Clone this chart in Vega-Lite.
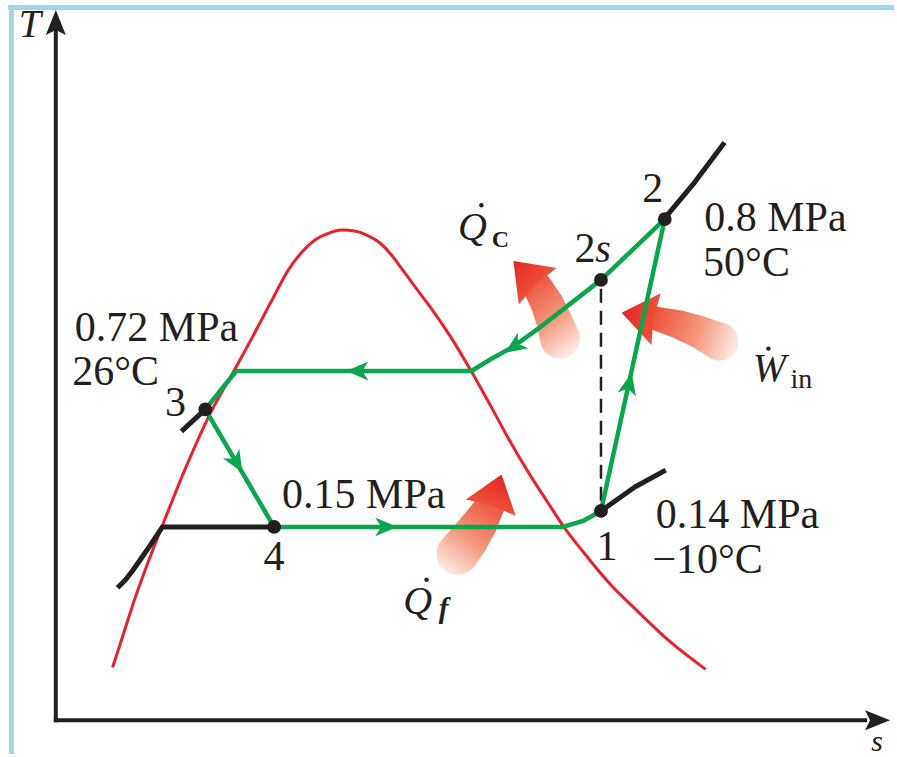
{
  "$schema": "https://vega.github.io/schema/vega-lite/v6.json",
  "width": 897,
  "height": 757,
  "autosize": {"type": "fit", "contains": "padding"},
  "padding": 0,
  "background": "white",
  "config": {"view": {"stroke": null}},
  "datasets": {
    "frame": [
      {"s": -4.8, "T": 71.55, "s2": 84.1, "T2": 71.55},
      {"s": -4.45, "T": 71.8, "s2": -4.45, "T2": -3.4}
    ],
    "axes": [
      {"s": 0, "T": -0.2, "s2": 0, "T2": 69.3},
      {"s": -0.2, "T": 0, "s2": 81.4, "T2": 0}
    ],
    "axisHeads": [
      {"s": 0, "T": 70.05, "heading": 0},
      {"s": 82.45, "T": 0, "heading": 90}
    ],
    "dome": [
      {"k": 1, "s": 5.7, "T": 5.3}, {"k": 2, "s": 6.8, "T": 8.7}, {"k": 3, "s": 7.9, "T": 12.1},
      {"k": 4, "s": 9.2, "T": 15.7}, {"k": 5, "s": 10.6, "T": 19.3}, {"k": 6, "s": 13.1, "T": 25.5},
      {"k": 7, "s": 15.6, "T": 31.0}, {"k": 8, "s": 17.9, "T": 35.1}, {"k": 9, "s": 19.8, "T": 38.6},
      {"k": 10, "s": 21.6, "T": 42.0}, {"k": 11, "s": 23.4, "T": 45.3}, {"k": 12, "s": 24.7, "T": 47.0},
      {"k": 13, "s": 26.0, "T": 48.2}, {"k": 14, "s": 27.4, "T": 48.9}, {"k": 15, "s": 28.7, "T": 49.2},
      {"k": 16, "s": 30.0, "T": 49.1}, {"k": 17, "s": 31.2, "T": 48.7}, {"k": 18, "s": 32.4, "T": 48.0},
      {"k": 19, "s": 33.6, "T": 46.8}, {"k": 20, "s": 34.8, "T": 45.2}, {"k": 21, "s": 36.2, "T": 43.3},
      {"k": 22, "s": 37.7, "T": 41.3}, {"k": 23, "s": 39.6, "T": 38.5}, {"k": 24, "s": 41.7, "T": 35.0},
      {"k": 25, "s": 43.6, "T": 31.6}, {"k": 26, "s": 45.4, "T": 28.3}, {"k": 27, "s": 47.4, "T": 24.9},
      {"k": 28, "s": 49.4, "T": 21.8}, {"k": 29, "s": 50.9, "T": 19.5}, {"k": 30, "s": 52.9, "T": 16.9},
      {"k": 31, "s": 55.4, "T": 13.9}, {"k": 32, "s": 58.4, "T": 10.9}, {"k": 33, "s": 61.6, "T": 7.9},
      {"k": 34, "s": 65.2, "T": 5.1}
    ],
    "isobars": [
      {"seg": "p2", "k": 1, "s": 61.1, "T": 50.4}, {"seg": "p2", "k": 2, "s": 64.1, "T": 54.0}, {"seg": "p2", "k": 3, "s": 67.1, "T": 58.0},
      {"seg": "p1", "k": 1, "s": 54.7, "T": 21.0}, {"seg": "p1", "k": 2, "s": 58.1, "T": 23.4}, {"seg": "p1", "k": 3, "s": 61.2, "T": 25.1},
      {"seg": "p3", "k": 1, "s": 15.0, "T": 31.2}, {"seg": "p3", "k": 2, "s": 12.6, "T": 29.0},
      {"seg": "p4", "k": 1, "s": 21.9, "T": 19.4}, {"seg": "p4", "k": 2, "s": 10.7, "T": 19.4}, {"seg": "p4", "k": 3, "s": 9.9, "T": 18.2},
      {"seg": "p4", "k": 4, "s": 9.1, "T": 17.0}, {"seg": "p4", "k": 5, "s": 8.4, "T": 16.0}, {"seg": "p4", "k": 6, "s": 7.7, "T": 15.0},
      {"seg": "p4", "k": 7, "s": 7.0, "T": 14.1}, {"seg": "p4", "k": 8, "s": 6.2, "T": 13.3}
    ],
    "isentrope": [
      {"s": 54.7, "T": 43.3, "s2": 54.7, "T2": 21.8}
    ],
    "cycle": [
      {"k": 1, "s": 21.9, "T": 19.4}, {"k": 2, "s": 50.9, "T": 19.4}, {"k": 3, "s": 52.9, "T": 20.0},
      {"k": 4, "s": 54.7, "T": 21.0}, {"k": 5, "s": 61.1, "T": 50.3}, {"k": 6, "s": 54.7, "T": 44.2},
      {"k": 7, "s": 48.4, "T": 39.3}, {"k": 8, "s": 45.9, "T": 37.5}, {"k": 9, "s": 43.4, "T": 36.1},
      {"k": 10, "s": 41.7, "T": 35.05}, {"k": 11, "s": 18.1, "T": 35.05}, {"k": 12, "s": 15.0, "T": 31.2},
      {"k": 13, "s": 21.9, "T": 19.4}
    ],
    "flow": [
      {"s": 33.15, "T": 19.4, "heading": 90},
      {"s": 30.25, "T": 35.05, "heading": 270},
      {"s": 57.53, "T": 33.77, "heading": 12.5},
      {"s": 45.97, "T": 37.5, "heading": 236},
      {"s": 18.15, "T": 25.81, "heading": 149.7}
    ],
    "heat": [
      {"arrow": "cond", "k": 1, "s": 48.4, "T": 43.4, "w": 0.667},
      {"arrow": "cond", "k": 2, "s": 49.3, "T": 41.8, "w": 0.733},
      {"arrow": "cond", "k": 3, "s": 50.0, "T": 40.1, "w": 0.8},
      {"arrow": "cond", "k": 4, "s": 50.6, "T": 38.3, "w": 0.889},
      {"arrow": "work", "k": 1, "s": 60.3, "T": 40.3, "w": 0.533},
      {"arrow": "work", "k": 2, "s": 62.6, "T": 39.7, "w": 0.644},
      {"arrow": "work", "k": 3, "s": 64.7, "T": 38.9, "w": 0.733},
      {"arrow": "work", "k": 4, "s": 66.6, "T": 38.0, "w": 0.844},
      {"arrow": "evap", "k": 1, "s": 43.5, "T": 21.4, "w": 0.667},
      {"arrow": "evap", "k": 2, "s": 42.5, "T": 19.7, "w": 0.8},
      {"arrow": "evap", "k": 3, "s": 41.4, "T": 18.1, "w": 0.889},
      {"arrow": "evap", "k": 4, "s": 40.3, "T": 16.7, "w": 0.933}
    ],
    "heatHeads": [
      {"s": 47.13, "T": 44.83, "heading": 316.1},
      {"s": 58.5, "T": 40.58, "heading": 280.2},
      {"s": 44.18, "T": 23.0, "heading": 18.2}
    ],
    "states": [
      {"state": "1", "s": 54.7, "T": 21.0},
      {"state": "2", "s": 61.1, "T": 50.3},
      {"state": "2s", "s": 54.7, "T": 44.2},
      {"state": "3", "s": 15.0, "T": 31.2},
      {"state": "4", "s": 21.9, "T": 19.4}
    ],
    "labels": [
      {"s": 72.2, "T": 49.1, "label": "0.8 MPa"},
      {"s": 69.3, "T": 44.6, "label": "50°C"},
      {"s": 10.1, "T": 38.1, "label": "0.72 MPa"},
      {"s": 6.0, "T": 33.6, "label": "26°C"},
      {"s": 30.9, "T": 21.3, "label": "0.15 MPa"},
      {"s": 68.4, "T": 19.3, "label": "0.14 MPa"},
      {"s": 65.4, "T": 14.8, "label": "−10°C"},
      {"s": 55.3, "T": 16.1, "label": "1"},
      {"s": 59.9, "T": 52.0, "label": "2"},
      {"s": 12.0, "T": 30.5, "label": "3"},
      {"s": 21.9, "T": 15.1, "label": "4"},
      {"s": 53.1, "T": 46.0, "label": "2"}
    ],
    "italicLabels": [
      {"s": -2.6, "T": 68.6, "label": "T"},
      {"s": 54.9, "T": 46.0, "label": "s"},
      {"s": 41.8, "T": 48.2, "label": "Q"},
      {"s": 36.3, "T": 10.7, "label": "Q"},
      {"s": 71.6, "T": 34.0, "label": "W"}
    ],
    "axisTitle": [
      {"s": 82.4, "T": -3.1, "label": "s"}
    ],
    "subC": [{"s": 44.6, "T": 47.5, "label": "C"}],
    "subIn": [{"s": 74.8, "T": 33.3, "label": "in"}],
    "subF": [{"s": 38.9, "T": 10.3, "label": "f"}],
    "overdots": [
      {"s": 42.7, "T": 51.7},
      {"s": 71.5, "T": 37.3},
      {"s": 37.2, "T": 14.1}
    ]
  },
  "encoding": {
    "x": {"field": "s", "type": "quantitative", "scale": {"domain": [-5.6, 84.1], "nice": false, "zero": false}, "axis": null},
    "y": {"field": "T", "type": "quantitative", "scale": {"domain": [-3.4, 72.3], "nice": false, "zero": false}, "axis": null}
  },
  "layer": [
    {
      "data": {"name": "frame"},
      "mark": {"type": "rule", "color": "#9dd8e7", "strokeWidth": 5},
      "encoding": {"x2": {"field": "s2"}, "y2": {"field": "T2"}}
    },
    {
      "data": {"name": "axes"},
      "mark": {"type": "rule", "color": "#231f20", "strokeWidth": 4},
      "encoding": {"x2": {"field": "s2"}, "y2": {"field": "T2"}}
    },
    {
      "data": {"name": "axisHeads"},
      "mark": {"type": "point", "shape": "M0,-1 L0.8,1 L0,0.6 L-0.8,1 Z", "filled": true, "fill": "#231f20", "opacity": 1, "strokeWidth": 0, "size": 625},
      "encoding": {"angle": {"field": "heading", "type": "quantitative", "scale": null}}
    },
    {
      "data": {"name": "dome"},
      "mark": {"type": "line", "color": "#e8222b", "strokeWidth": 3, "interpolate": "monotone"},
      "encoding": {"order": {"field": "k", "type": "quantitative"}}
    },
    {
      "data": {"name": "heat"},
      "transform": [{"filter": "datum.arrow === 'cond'"}],
      "mark": {"type": "trail", "opacity": 1, "fill": {"gradient": "linear", "x1": 0.2, "y1": 0, "x2": 0.7, "y2": 1, "stops": [{"offset": 0, "color": "#ec4a36"}, {"offset": 0.55, "color": "#f4957c"}, {"offset": 1, "color": "#fdeae4"}]}},
      "encoding": {"order": {"field": "k", "type": "quantitative"}, "size": {"field": "w", "type": "quantitative", "scale": {"domain": [0, 1], "range": [0, 45]}, "legend": null}}
    },
    {
      "data": {"name": "heat"},
      "transform": [{"filter": "datum.arrow === 'work'"}],
      "mark": {"type": "trail", "opacity": 1, "fill": {"gradient": "linear", "x1": 0, "y1": 0.4, "x2": 1, "y2": 0.6, "stops": [{"offset": 0, "color": "#ec4a36"}, {"offset": 0.55, "color": "#f4957c"}, {"offset": 1, "color": "#fdeae4"}]}},
      "encoding": {"order": {"field": "k", "type": "quantitative"}, "size": {"field": "w", "type": "quantitative", "scale": {"domain": [0, 1], "range": [0, 45]}, "legend": null}}
    },
    {
      "data": {"name": "heat"},
      "transform": [{"filter": "datum.arrow === 'evap'"}],
      "mark": {"type": "trail", "opacity": 1, "fill": {"gradient": "linear", "x1": 0.8, "y1": 0, "x2": 0.2, "y2": 1, "stops": [{"offset": 0, "color": "#ec4a36"}, {"offset": 0.55, "color": "#f4957c"}, {"offset": 1, "color": "#fdeae4"}]}},
      "encoding": {"order": {"field": "k", "type": "quantitative"}, "size": {"field": "w", "type": "quantitative", "scale": {"domain": [0, 1], "range": [0, 45]}, "legend": null}}
    },
    {
      "data": {"name": "heatHeads"},
      "mark": {"type": "point", "shape": "M0,-1 L1.5,1 L0,0.85 L-1.5,1 Z", "filled": true, "opacity": 1, "strokeWidth": 0, "size": 1225,
        "fill": {"gradient": "linear", "x1": 0.5, "y1": 0, "x2": 0.5, "y2": 1, "stops": [{"offset": 0, "color": "#e42526"}, {"offset": 1, "color": "#ed5139"}]}},
      "encoding": {"angle": {"field": "heading", "type": "quantitative", "scale": null}}
    },
    {
      "data": {"name": "isobars"},
      "mark": {"type": "line", "color": "#231f20", "strokeWidth": 5, "strokeJoin": "round"},
      "encoding": {"detail": {"field": "seg", "type": "nominal"}, "order": {"field": "k", "type": "quantitative"}}
    },
    {
      "data": {"name": "isentrope"},
      "mark": {"type": "rule", "color": "#231f20", "strokeWidth": 2.5, "strokeDash": [14, 8]},
      "encoding": {"x2": {"field": "s2"}, "y2": {"field": "T2"}}
    },
    {
      "data": {"name": "cycle"},
      "mark": {"type": "line", "color": "#0aa64b", "strokeWidth": 4.5, "strokeJoin": "round"},
      "encoding": {"order": {"field": "k", "type": "quantitative"}}
    },
    {
      "data": {"name": "flow"},
      "mark": {"type": "point", "shape": "M0,-1 L0.86,1 L0,0.45 L-0.86,1 Z", "filled": true, "fill": "#0aa64b", "opacity": 1, "strokeWidth": 0, "size": 484},
      "encoding": {"angle": {"field": "heading", "type": "quantitative", "scale": null}}
    },
    {
      "data": {"name": "states"},
      "mark": {"type": "circle", "color": "#231f20", "opacity": 1, "size": 190}
    },
    {
      "data": {"name": "labels"},
      "mark": {"type": "text", "font": "Liberation Serif", "fontSize": 42, "align": "center", "baseline": "alphabetic", "color": "#231f20"},
      "encoding": {"text": {"field": "label"}}
    },
    {
      "data": {"name": "italicLabels"},
      "mark": {"type": "text", "font": "Liberation Serif", "fontStyle": "italic", "fontSize": 40, "align": "center", "baseline": "alphabetic", "color": "#231f20"},
      "encoding": {"text": {"field": "label"}}
    },
    {
      "data": {"name": "axisTitle"},
      "mark": {"type": "text", "font": "Liberation Serif", "fontStyle": "italic", "fontSize": 30, "align": "center", "baseline": "alphabetic", "color": "#231f20"},
      "encoding": {"text": {"field": "label"}}
    },
    {
      "data": {"name": "subC"},
      "mark": {"type": "text", "font": "Liberation Serif", "fontWeight": "bold", "fontSize": 24, "align": "center", "baseline": "alphabetic", "color": "#231f20"},
      "encoding": {"text": {"field": "label"}}
    },
    {
      "data": {"name": "subIn"},
      "mark": {"type": "text", "font": "Liberation Serif", "fontSize": 28, "align": "center", "baseline": "alphabetic", "color": "#231f20"},
      "encoding": {"text": {"field": "label"}}
    },
    {
      "data": {"name": "subF"},
      "mark": {"type": "text", "font": "Liberation Serif", "fontWeight": "bold", "fontStyle": "italic", "fontSize": 29, "align": "center", "baseline": "alphabetic", "color": "#231f20"},
      "encoding": {"text": {"field": "label"}}
    },
    {
      "data": {"name": "overdots"},
      "mark": {"type": "circle", "color": "#231f20", "opacity": 1, "size": 20}
    }
  ]
}
